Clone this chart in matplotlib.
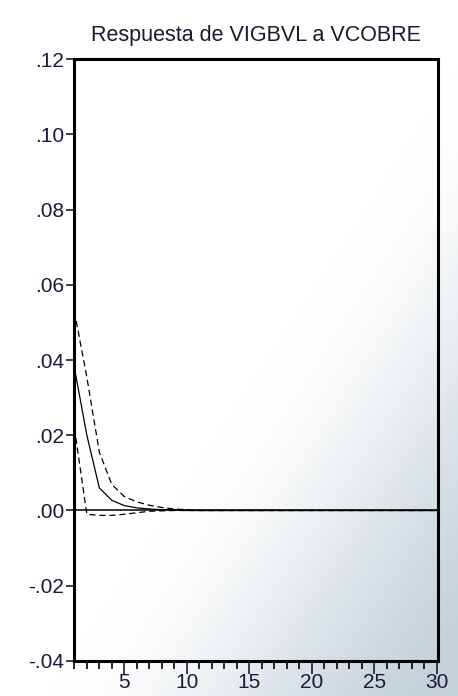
import numpy as np
import matplotlib
matplotlib.use("Agg")
import matplotlib.pyplot as plt
from matplotlib.ticker import MultipleLocator

# respuesta al impulso (periodos 1..30)
periodos = np.arange(1, 31)
respuesta = [0.038, 0.0200, 0.0060, 0.0027, 0.0013, 0.0007, 0.0004, 0.0002, 0.0001, 0.0]
banda_sup = [0.053, 0.0354, 0.0155, 0.0069, 0.0037, 0.0023, 0.0014, 0.0008, 0.0004, 0.0002]
banda_inf = [0.022, -0.0010, -0.0013, -0.0013, -0.0010, -0.0006, -0.0002, -0.0001, 0.0, 0.0]
respuesta += [0.0] * (30 - len(respuesta))
banda_sup += [0.0] * (30 - len(banda_sup))
banda_inf += [0.0] * (30 - len(banda_inf))

yticks = [-0.04, -0.02, 0.0, 0.02, 0.04, 0.06, 0.08, 0.10, 0.12]
ylabels = ["-.04", "-.02", ".00", ".02", ".04", ".06", ".08", ".10", ".12"]
xticks = [5, 10, 15, 20, 25, 30]
titulo = "Respuesta de VIGBVL a VCOBRE"

plt.rcParams["font.family"] = ["Liberation Sans", "DejaVu Sans"]

fig = plt.figure(figsize=(4.58, 6.96), dpi=100)

# fondo con degradado suave hacia abajo a la derecha
bg = fig.add_axes([0, 0, 1, 1], zorder=-10)
u, v = np.meshgrid(np.linspace(0, 1, 229), np.linspace(0, 1, 348))
d = 0.5 * u + 0.5 * v
t = np.clip((d - 0.55) / 0.45, 0, 1)
f = t * t * (3 - 2 * t)
c0 = np.array([1.0, 1.0, 1.0])
c1 = np.array([0.77, 0.82, 0.85])
img = c0[None, None, :] * (1 - f[..., None]) + c1[None, None, :] * f[..., None]
bg.imshow(img, aspect="auto", extent=[0, 1, 0, 1], origin="upper")
bg.axis("off")

ax = fig.add_axes([0.161, 0.0503, 0.795, 0.8649])
ax.patch.set_alpha(0)

ax.axhline(0, color="black", lw=1.1, zorder=2)
ax.plot(periodos, respuesta, color="black", lw=0.9, zorder=3)
ax.plot(periodos, banda_sup, color="black", lw=0.9, ls=(0, (5, 3)), zorder=3)
ax.plot(periodos, banda_inf, color="black", lw=0.9, ls=(0, (5, 3)), zorder=3)

ax.set_xlim(0.95, 30.1)
ax.set_ylim(-0.04, 0.12)
ax.set_yticks(yticks)
ax.set_yticklabels(ylabels)
ax.set_xticks(xticks)
ax.xaxis.set_minor_locator(MultipleLocator(1))

for s in ax.spines.values():
    s.set_linewidth(2.2)
ax.tick_params(axis="y", direction="out", length=6, width=1.2, labelsize=15, pad=1, colors="#1a1a3a")
ax.tick_params(axis="x", which="major", direction="out", length=9, width=1.2, labelsize=15, pad=0, colors="#1a1a3a")
ax.tick_params(axis="x", which="minor", direction="out", length=6, width=1.2)

ax.set_title(titulo, fontsize=15.5, pad=13, color="#1a1a2e")

fig.savefig("out.png", dpi=100)
